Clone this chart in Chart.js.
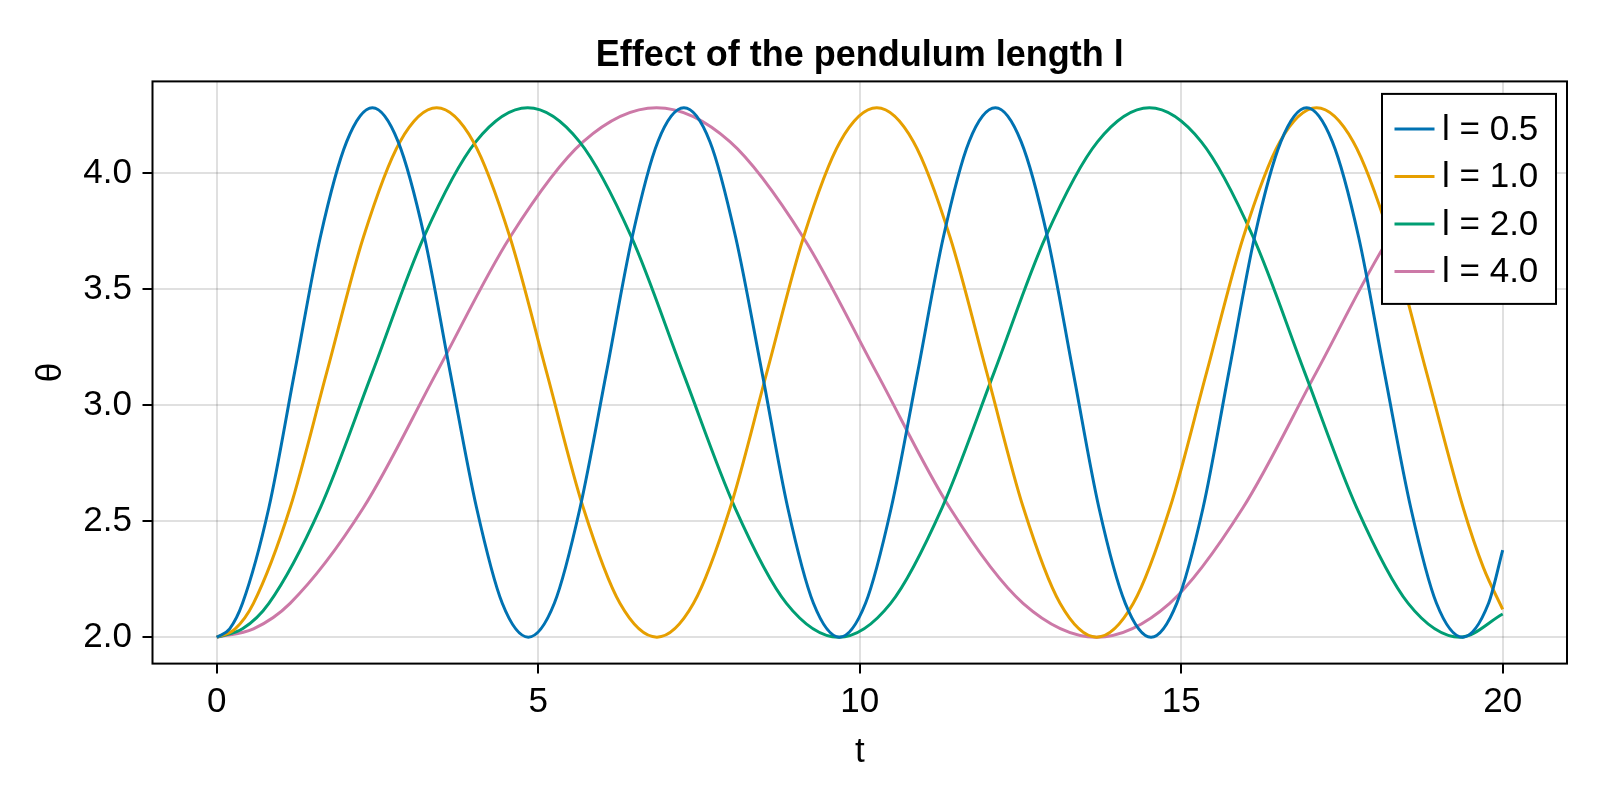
<!DOCTYPE html>
<html>
<head>
<meta charset="utf-8">
<title>Effect of the pendulum length l</title>
<script src="https://cdn.jsdelivr.net/npm/chart.js@4.4.1/dist/chart.umd.min.js"></script>
<style>
  html, body { margin: 0; padding: 0; background: #fff; }
</style>
</head>
<body>
<canvas id="pendulumChart" width="1600" height="800"></canvas>
<script>
// values (t, theta) for each pendulum length
const chartTitle = "Effect of the pendulum length l";
const seriesLabels = ["l = 0.5", "l = 1.0", "l = 2.0", "l = 4.0"];
const seriesColors = ["#0072B2", "#E69F00", "#009E73", "#CC79A7"];

const tBlue = [0, 0.20, 0.40, 0.81, 1.21, 1.61, 2.02, 2.42, 2.82, 3.23, 3.63, 4.04, 4.44, 4.845,
  5.25, 5.65, 6.06, 6.46, 6.86, 7.265, 7.67, 8.07, 8.48, 8.88, 9.28, 9.685,
  10.09, 10.49, 10.90, 11.30, 11.70, 12.11, 12.51, 12.92, 13.32, 13.72, 14.13, 14.53,
  14.93, 15.34, 15.74, 16.14, 16.55, 16.95, 17.35, 17.76, 18.16, 18.57, 18.97, 19.375,
  19.78, 20];
const thetaBlue = [2.000, 2.036, 2.146, 2.558, 3.142, 3.725, 4.137, 4.283,
  4.137, 3.725, 3.142, 2.558, 2.146, 2.000,
  2.146, 2.558, 3.142, 3.725, 4.137, 4.283,
  4.137, 3.725, 3.142, 2.558, 2.146, 2.000,
  2.146, 2.558, 3.142, 3.725, 4.137, 4.283,
  4.137, 3.725, 3.142, 2.558, 2.146, 2.000,
  2.146, 2.558, 3.142, 3.725, 4.137, 4.283,
  4.137, 3.725, 3.142, 2.558, 2.146, 2.000,
  2.146, 2.375];

const tOrange = [0, 0.285, 0.57, 1.14, 1.71, 2.28, 2.85, 3.42, 3.99, 4.56, 5.13, 5.70, 6.27, 6.845,
  7.415, 7.985, 8.555, 9.125, 9.695, 10.265, 10.835, 11.405, 11.975, 12.545, 13.115, 13.685,
  14.255, 14.825, 15.395, 15.965, 16.535, 17.105, 17.675, 18.245, 18.815, 19.385, 19.70, 20];
const thetaOrange = [2.000, 2.036, 2.146, 2.558, 3.142, 3.725, 4.137, 4.283,
  4.137, 3.725, 3.142, 2.558, 2.146, 2.000,
  2.146, 2.558, 3.142, 3.725, 4.137, 4.283,
  4.137, 3.725, 3.142, 2.558, 2.146, 2.000,
  2.146, 2.558, 3.142, 3.725, 4.137, 4.283,
  4.137, 3.725, 3.142, 2.558, 2.300, 2.120];

const tGreen = [0, 0.40, 0.81, 1.61, 2.42, 3.22, 4.03, 4.835, 5.64, 6.45, 7.25, 8.06, 8.86, 9.67,
  10.48, 11.28, 12.09, 12.89, 13.70, 14.505, 15.31, 16.12, 16.92, 17.73, 18.53, 19.34, 20];
const thetaGreen = [2.000, 2.036, 2.146, 2.558, 3.142, 3.725, 4.137, 4.283,
  4.137, 3.725, 3.142, 2.558, 2.146, 2.000,
  2.146, 2.558, 3.142, 3.725, 4.137, 4.283,
  4.137, 3.725, 3.142, 2.558, 2.146, 2.000, 2.100];

const tPink = [0, 0.57, 1.14, 2.28, 3.42, 4.56, 5.70, 6.84, 7.98, 9.12, 10.26, 11.40, 12.54, 13.68,
  14.82, 15.96, 17.10, 18.24, 19.38, 20];
const thetaPink = [2.000, 2.036, 2.146, 2.558, 3.142, 3.725, 4.137, 4.283,
  4.137, 3.725, 3.142, 2.558, 2.146, 2.000,
  2.146, 2.558, 3.142, 3.725, 4.137, 4.250];

const xTicks = [0, 5, 10, 15, 20];
const yTicks = [2.0, 2.5, 3.0, 3.5, 4.0];

const FONT = "'Liberation Sans', Arial, Helvetica, sans-serif";

function pairs(ts, vs) {
  return ts.map((t, i) => ({ x: t, y: vs[i] }));
}

const seriesData = [
  pairs(tBlue, thetaBlue),
  pairs(tOrange, thetaOrange),
  pairs(tGreen, thetaGreen),
  pairs(tPink, thetaPink)
];

// title centred over the plot, frame, and the boxed legend in the top right corner
const frameAndLegend = {
  id: "frameAndLegend",
  afterDraw(chart) {
    const { ctx, chartArea: a } = chart;
    ctx.save();

    ctx.fillStyle = "#000";
    ctx.font = "bold 36px " + FONT;
    ctx.textAlign = "center";
    ctx.textBaseline = "alphabetic";
    ctx.fillText(chartTitle, (a.left + a.right) / 2, 66);

    ctx.strokeStyle = "#000";
    ctx.lineWidth = 2;
    ctx.strokeRect(a.left, a.top, a.right - a.left, a.bottom - a.top);

    const bw = 174, bh = 210;
    const bx = a.right - 11 - bw;
    const by = a.top + 12.5;
    ctx.fillStyle = "#fff";
    ctx.fillRect(bx, by, bw, bh);
    ctx.strokeRect(bx, by, bw, bh);

    ctx.font = "35px " + FONT;
    ctx.textBaseline = "middle";
    ctx.textAlign = "left";
    chart.data.datasets.forEach((ds, i) => {
      const y = by + 35 + i * 47.5;
      ctx.strokeStyle = ds.borderColor;
      ctx.lineWidth = 3;
      ctx.beginPath();
      ctx.moveTo(bx + 12.5, y);
      ctx.lineTo(bx + 52.5, y);
      ctx.stroke();
      ctx.fillStyle = "#000";
      ctx.fillText(ds.label, bx + 60, y + 1);
    });
    ctx.restore();
  }
};

new Chart(
  document.getElementById("pendulumChart"),
  {
    type: "line",
    data: {
      datasets: seriesLabels.map((label, i) => ({
        label: label,
        data: seriesData[i],
        borderColor: seriesColors[i],
        backgroundColor: seriesColors[i],
        borderWidth: 3,
        pointRadius: 0,
        fill: false,
        cubicInterpolationMode: "monotone"
      }))
    },
    options: {
      responsive: false,
      animation: false,
      layout: { padding: { left: 0, right: 33, top: 81.4, bottom: 0 } },
      plugins: {
        legend: { display: false },
        tooltip: { enabled: false },
        title: { display: false }
      },
      scales: {
        x: {
          type: "linear",
          min: -1,
          max: 21,
          afterBuildTicks: s => { s.ticks = xTicks.map(v => ({ value: v })); },
          afterFit: s => { s.height = 136.4; },
          border: { display: false },
          grid: {
            color: "rgba(0,0,0,0.12)",
            lineWidth: 2,
            tickLength: 10,
            tickColor: "#000",
            tickWidth: 2
          },
          ticks: {
            color: "#000",
            font: { family: FONT, size: 35 },
            padding: 8,
            maxRotation: 0
          },
          title: {
            display: true,
            text: "t",
            color: "#000",
            font: { family: FONT, size: 35, lineHeight: 1.2 },
            padding: { top: 0, bottom: 27 }
          }
        },
        y: {
          type: "linear",
          min: 1.886,
          max: 4.397,
          afterBuildTicks: s => { s.ticks = yTicks.map(v => ({ value: v })); },
          afterFit: s => { s.width = 152.5; },
          border: { display: false },
          grid: {
            color: "rgba(0,0,0,0.12)",
            lineWidth: 2,
            tickLength: 10,
            tickColor: "#000",
            tickWidth: 2
          },
          ticks: {
            color: "#000",
            font: { family: FONT, size: 35 },
            padding: 10.5,
            callback: v => v.toFixed(1)
          },
          title: {
            display: true,
            text: "θ",
            color: "#000",
            font: { family: FONT, size: 35, lineHeight: 1.2 },
            padding: { top: 30, bottom: 0 }
          }
        }
      }
    },
    plugins: [frameAndLegend]
  }
);
</script>
</body>
</html>
